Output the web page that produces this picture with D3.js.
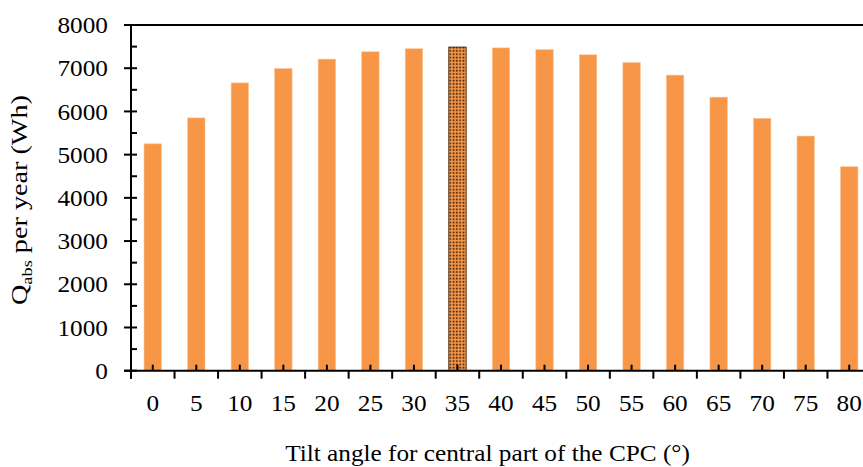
<!DOCTYPE html>
<html>
<head>
<meta charset="utf-8">
<script src="https://cdn.jsdelivr.net/npm/d3@7"></script>
<style>
  html, body { margin: 0; padding: 0; background: #fff; }
  svg { display: block; }
</style>
</head>
<body>
<svg id="chart" width="863" height="467"></svg>
<script>
// Tilt angle of the CPC central part (degrees)
const angles = ["0", "5", "10", "15", "20", "25", "30", "35", "40", "45", "50", "55", "60", "65", "70", "75", "80"];
// Annual absorbed energy Q_abs (Wh)
const qabs = [5250, 5850, 6660, 6990, 7210, 7380, 7450, 7490, 7470, 7430, 7310, 7130, 6840, 6330, 5840, 5430, 4720];
// Optimum angle, drawn with a dotted fill
const optimumAngle = "35";
const yTicks = [0, 1000, 2000, 3000, 4000, 5000, 6000, 7000, 8000];
const yMinorTicks = [500, 1500, 2500, 3500, 4500, 5500, 6500, 7500];
const xTitle = "Tilt angle for central part of the CPC (°)";

// pick the first Times-like face that is actually installed
function pickFont(cands) {
  const ctx = document.createElement("canvas").getContext("2d");
  const probe = "Tilt angle 0123456789 WwQq";
  ctx.font = "40px monospace";
  const base = ctx.measureText(probe).width;
  for (const f of cands) {
    ctx.font = `40px "${f}", monospace`;
    if (Math.abs(ctx.measureText(probe).width - base) > 0.5) return `"${f}"`;
  }
  return "serif";
}
const FONT = pickFont(["Liberation Serif", "Times New Roman", "Tinos", "Nimbus Roman",
  "Nimbus Roman No9 L", "FreeSerif", "Noto Serif", "DejaVu Serif"]);

// size the lettering by its digit height (about 15.7px)
function inkHeight(str, size) {
  const ctx = document.createElement("canvas").getContext("2d");
  ctx.font = `${size}px ${FONT}`;
  const m = ctx.measureText(str);
  return m.actualBoundingBoxAscent + m.actualBoundingBoxDescent;
}
function textWidth(str, size) {
  const ctx = document.createElement("canvas").getContext("2d");
  ctx.font = `${size}px ${FONT}`;
  return ctx.measureText(str).width;
}
const FS = Math.min(24, Math.max(19, 23 * 15.7 / (inkHeight("8000", 23) || 15.7)));
const SUB = FS * 0.65;
// horizontal stretch so that the axis titles span their lengths
const SX = 405 / textWidth(xTitle, FS);
const SY = 210 / (textWidth("Q", FS) + textWidth("abs", SUB) + textWidth(" per year (Wh)", FS));

const svg = d3.select("#chart").attr("font-family", FONT);
const W = 863;
const plotLeft = 131, plotRight = 871, plotTop = 25, plotBottom = 370.7;

const x = d3.scaleBand().domain(angles).range([plotLeft, plotRight])
  .paddingInner(0.6).paddingOuter(0.3);
const y = d3.scaleLinear().domain([0, 8000]).range([plotBottom, plotTop]);

// dotted pattern for the optimum bar
const defs = svg.append("defs");
const pat = defs.append("pattern").attr("id", "dots")
  .attr("patternUnits", "userSpaceOnUse").attr("width", 3.3).attr("height", 3.3);
pat.append("rect").attr("width", 3.3).attr("height", 3.3).attr("fill", "#F79646");
pat.append("rect").attr("x", 0.6).attr("y", 0.6).attr("width", 1.6).attr("height", 1.6).attr("fill", "#2a1606");

// bars
svg.append("g").selectAll("rect").data(angles).join("rect")
  .attr("x", d => x(d))
  .attr("y", (d, i) => y(qabs[i]))
  .attr("width", x.bandwidth())
  .attr("height", (d, i) => y(0) - y(qabs[i]))
  .attr("fill", d => d === optimumAngle ? "url(#dots)" : "#F79646")
  .attr("stroke", d => d === optimumAngle ? "#3a1e08" : "#FBC392")
  .attr("stroke-width", d => d === optimumAngle ? 0.8 : 0.6);

// top frame line
svg.append("line").attr("x1", plotLeft).attr("x2", W).attr("y1", y(8000)).attr("y2", y(8000))
  .attr("stroke", "#000").attr("stroke-width", 2);

// y axis
const yAxisG = svg.append("g").attr("transform", `translate(${plotLeft},0)`);
yAxisG.append("line").attr("x1", 0).attr("x2", 0).attr("y1", y(8000)).attr("y2", plotBottom + 8)
  .attr("stroke", "#000").attr("stroke-width", 2);
yAxisG.selectAll(".ymaj").data(yTicks).join("line")
  .attr("x1", -7).attr("x2", 6).attr("y1", d => y(d)).attr("y2", d => y(d))
  .attr("stroke", "#000").attr("stroke-width", 2);
yAxisG.selectAll(".ymin").data(yMinorTicks).join("line")
  .attr("x1", 0).attr("x2", 6).attr("y1", d => y(d)).attr("y2", d => y(d))
  .attr("stroke", "#000").attr("stroke-width", 2);
yAxisG.selectAll(".ylab").data(yTicks).join("text")
  .attr("transform", d => `translate(-23,${y(d)}) scale(${SX},1)`)
  .attr("dy", "0.34em")
  .attr("text-anchor", "end").attr("font-size", FS).text(d => d);

// x axis
const xAxisG = svg.append("g");
xAxisG.append("line").attr("x1", plotLeft - 7).attr("x2", W).attr("y1", plotBottom).attr("y2", plotBottom)
  .attr("stroke", "#000").attr("stroke-width", 2);
const step = x.step();
const bounds = d3.range(angles.length + 1).map(i => plotLeft + i * step);
xAxisG.selectAll(".xmaj").data(bounds).join("line")
  .attr("x1", d => d).attr("x2", d => d).attr("y1", plotBottom).attr("y2", plotBottom + 8)
  .attr("stroke", "#000").attr("stroke-width", 2);
xAxisG.selectAll(".xmin").data(angles).join("line")
  .attr("x1", d => x(d) + x.bandwidth() / 2).attr("x2", d => x(d) + x.bandwidth() / 2)
  .attr("y1", plotBottom).attr("y2", plotBottom - 6)
  .attr("stroke", "#000").attr("stroke-width", 2);
xAxisG.selectAll(".xlab").data(angles).join("text")
  .attr("transform", d => `translate(${x(d) + x.bandwidth() / 2},411) scale(${SX},1)`)
  .attr("text-anchor", "middle").attr("font-size", FS).text(d => d);

// axis titles
svg.append("text")
  .attr("transform", `translate(487.5,461) scale(${SX},1)`)
  .attr("text-anchor", "middle").attr("font-size", FS)
  .text(xTitle);

const yt = svg.append("text")
  .attr("transform", `translate(27,305) rotate(-90) scale(${SY},1)`)
  .attr("text-anchor", "start").attr("font-size", FS);
yt.append("tspan").text("Q");
yt.append("tspan").attr("font-size", SUB).attr("dy", 5).text("abs");
yt.append("tspan").attr("dy", -5).text(" per year (Wh)");
</script>
</body>
</html>
